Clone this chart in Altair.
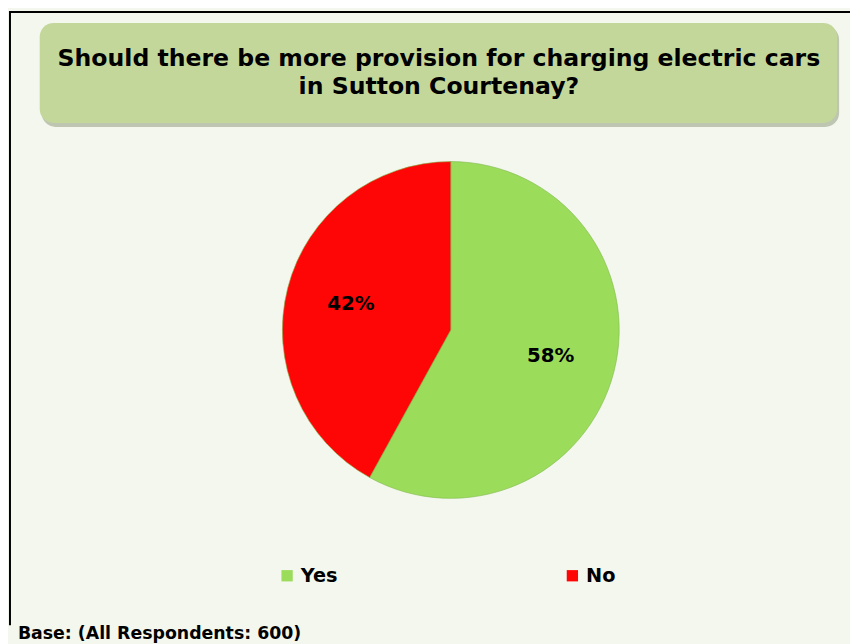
import altair as alt
import pandas as pd

# Data
categories = ["Yes", "No"]
values = [58, 42]
labels = ["58%", "42%"]
colors = ["#9bdc5a", "#fe0606"]
title_lines = ["Should there be more provision for charging electric cars", "in Sutton Courtenay?"]
base_note = "Base: (All Respondents: 600)"

df = pd.DataFrame({"cat": categories, "val": values, "lab": labels, "idx": [0, 1]})
one = pd.DataFrame({"a": [0]})

FONT = "DejaVu Sans"
CX, CY, R = 447, 322, 170

shadow = alt.Chart(one).mark_rect(cornerRadius=14, color="#9aa58a", opacity=0.6).encode(
    x=alt.value(34), x2=alt.value(839), y=alt.value(15), y2=alt.value(117))
box = alt.Chart(one).mark_rect(cornerRadius=14, color="#c4d79b").encode(
    x=alt.value(32), x2=alt.value(837), y=alt.value(12), y2=alt.value(113))
title = alt.Chart(one).mark_text(font=FONT, fontSize=23.8, fontWeight="bold", color="#000000",
                                 lineHeight=28, align="center", baseline="middle").encode(
    x=alt.value(435), y=alt.value(49), text=alt.value(title_lines))

color_scale = alt.Scale(domain=categories, range=colors)

pie = alt.Chart(df).mark_arc(outerRadius=R, stroke="#7fb84a", strokeWidth=0.6).encode(
    theta=alt.Theta("val:Q", stack=True),
    order=alt.Order("idx:Q"),
    color=alt.Color("cat:N", scale=color_scale, sort=categories,
                    legend=alt.Legend(title=None, orient="none", legendX=272, legendY=560,
                                      direction="horizontal", columns=2, columnPadding=227,
                                      symbolType="square", symbolSize=130, symbolStrokeWidth=0,
                                      symbolOffset=0, labelFont=FONT, labelFontSize=19.5,
                                      labelFontWeight="bold", labelColor="#000000", labelOffset=4)),
    x=alt.value(CX), y=alt.value(CY))

pie_labels = alt.Chart(df).mark_text(radius=104, font=FONT, fontSize=20, fontWeight="bold",
                                     color="#000000").encode(
    theta=alt.Theta("val:Q", stack=True),
    order=alt.Order("idx:Q"),
    text="lab:N",
    x=alt.value(CX), y=alt.value(CY))

border_top = alt.Chart(one).mark_rule(color="#000000", strokeWidth=2).encode(
    x=alt.value(1), x2=alt.value(850), y=alt.value(1))
border_left = alt.Chart(one).mark_rule(color="#000000", strokeWidth=2).encode(
    x=alt.value(2), y=alt.value(0), y2=alt.value(620))

base = alt.Chart(one).mark_text(font=FONT, fontSize=17.5, fontWeight="bold", color="#000000",
                                align="left", baseline="alphabetic").encode(
    x=alt.value(10), y=alt.value(634), text=alt.value(base_note))

chart = alt.layer(shadow, box, title, pie, pie_labels, border_top, border_left, base).properties(
    width=850, height=636, background="#f4f7ee", padding=0,
    autosize=alt.AutoSizeParams(type="none")
).configure_view(stroke=None)

chart.save("out.html", embed_options={"renderer": "svg", "actions": False})
